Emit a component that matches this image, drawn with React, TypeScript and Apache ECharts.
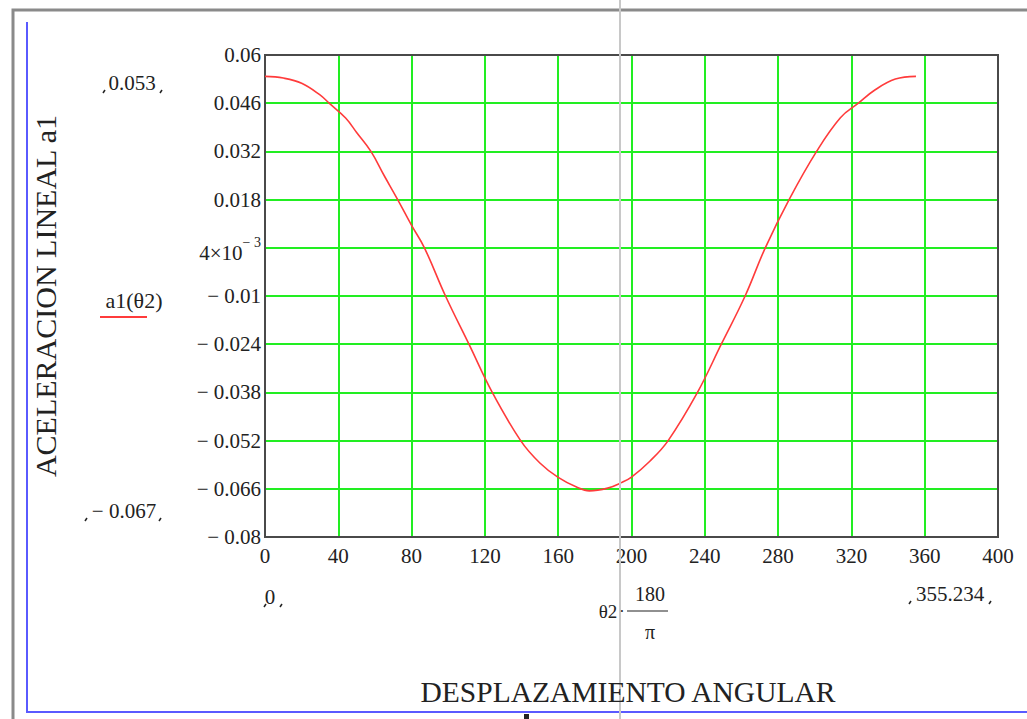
import React, { useEffect, useRef } from "react";
import * as echarts from "echarts";

// Angular displacement (degrees) and linear acceleration a1
const thetaDeg = [0, 10, 20, 30, 35, 44, 50, 57.8, 65, 72.4, 80, 87, 98.5, 111.3, 124, 139.5, 150, 160, 170, 177, 187, 194.5, 200, 210, 220, 236, 249, 262, 273, 286, 301, 314, 323.8, 333, 344, 355.234];
const accel = [0.0538, 0.0533, 0.0518, 0.0484, 0.046, 0.0417, 0.0375, 0.032, 0.025, 0.018, 0.0105, 0.004, -0.01, -0.024, -0.038, -0.052, -0.0585, -0.0627, -0.0655, -0.0666, -0.0658, -0.0642, -0.0626, -0.058, -0.052, -0.038, -0.024, -0.01, 0.004, 0.018, 0.032, 0.0418, 0.046, 0.0499, 0.053, 0.0538];

// y tick labels from -0.08 to 0.06 (step 0.014)
const yTickLabels = ["− 0.08", "− 0.066", "− 0.052", "− 0.038", "− 0.024", "− 0.01", "4×10^− 3", "0.018", "0.032", "0.046", "0.06"];
const yMin = -0.08;
const yMax = 0.06;
const xMin = 0;
const xMax = 400;
const xStep = 40;

const yTitle = "ACELERACION LINEAL a1";
const xTitle = "DESPLAZAMIENTO ANGULAR";
const legendLabel = "a1(θ2)";
const yRangeTop = "0.053";
const yRangeBottom = "− 0.067";
const xRangeLeft = "0";
const xRangeRight = "355.234";

const SERIF = '"Liberation Serif", "DejaVu Serif", serif';

export default function App() {
  const ref = useRef<HTMLDivElement>(null);
  useEffect(() => {
    if (!ref.current) return;
    const chart = echarts.init(ref.current, undefined, { renderer: "svg" });
    const data = thetaDeg.map((t, i) => [t, accel[i]]);
    const txt = (x: number, y: number, s: string, size = 21) => ({
      type: "text",
      x,
      y,
      style: { text: s, font: `${size}px ${SERIF}`, fill: "#222", align: "center", verticalAlign: "middle" },
      z: 10,
    });
    const mark = (x: number, y: number) => ({
      type: "line",
      shape: { x1: x, y1: y, x2: x - 2, y2: y + 3 },
      style: { stroke: "#222", lineWidth: 1.5 },
      z: 10,
    });
    chart.setOption({
      animation: false,
      backgroundColor: "#ffffff",
      grid: {
        left: 265,
        top: 55,
        right: 29,
        bottom: 182,
        show: true,
        borderColor: "#4a4a4a",
        borderWidth: 2,
        backgroundColor: "transparent",
        z: 3,
      },
      xAxis: {
        type: "value",
        min: xMin,
        max: xMax,
        interval: xStep,
        axisLine: { show: false },
        axisTick: { show: false },
        axisLabel: { fontFamily: SERIF, fontSize: 21, color: "#222", margin: 8 },
        splitLine: { show: true, lineStyle: { color: "#22ee22", width: 2 } },
      },
      yAxis: [
        { type: "value", min: yMin, max: yMax, show: false },
        {
          type: "value",
          min: 0,
          max: yTickLabels.length - 1,
          interval: 1,
          position: "left",
          axisLine: { show: false },
          axisTick: { show: false },
          axisLabel: {
            fontFamily: SERIF,
            fontSize: 21,
            color: "#222",
            margin: 4,
            formatter: (v: number) => {
              const s = yTickLabels[Math.round(v)] ?? "";
              if (s.includes("^")) {
                const [base, sup] = s.split("^");
                return `{b|${base}}{s|${sup}}`;
              }
              return s;
            },
            rich: {
              b: { fontFamily: SERIF, fontSize: 21, color: "#222", padding: [10, 0, 0, 0] },
              s: { fontFamily: SERIF, fontSize: 14, color: "#222", padding: [0, 0, 10, 0] },
            },
          },
          splitLine: { show: true, lineStyle: { color: "#22ee22", width: 2 } },
        },
      ],
      series: [
        {
          type: "line",
          yAxisIndex: 0,
          data,
          smooth: 0.4,
          showSymbol: false,
          lineStyle: { color: "#ff3b3b", width: 1.6 },
          z: 4,
        },
      ],
      graphic: [
        { type: "rect", shape: { x: 13, y: 10, width: 1100, height: 800 }, style: { fill: "none", stroke: "#8a8a8a", lineWidth: 3 }, z: 10 },
        { type: "polyline", shape: { points: [[27, 22], [27, 712], [1040, 712]] }, style: { fill: "none", stroke: "#5a5aff", lineWidth: 2 }, z: 10 },
        { type: "line", shape: { x1: 620, y1: 0, x2: 620, y2: 719 }, style: { stroke: "#c8c8c8", lineWidth: 2 }, z: 10 },
        { type: "rect", shape: { x: 524, y: 714, width: 5, height: 5 }, style: { fill: "#222" }, z: 10 },
        {
          type: "text",
          x: 45,
          y: 296,
          rotation: Math.PI / 2,
          style: { text: yTitle, font: `30px ${SERIF}`, fill: "#222", align: "center", verticalAlign: "middle" },
          z: 10,
        },
        {
          type: "text",
          x: 628,
          y: 692,
          style: { text: xTitle, font: `29.5px ${SERIF}`, fill: "#222", align: "center", verticalAlign: "middle" },
          z: 10,
        },
        txt(134, 300, legendLabel, 22),
        { type: "line", shape: { x1: 100, y1: 317, x2: 147, y2: 317 }, style: { stroke: "#ff3b3b", lineWidth: 2 }, z: 10 },
        txt(132, 83, yRangeTop),
        txt(124, 511, yRangeBottom),
        txt(270, 597, xRangeLeft),
        txt(950, 594, xRangeRight),
        mark(105, 90), mark(162, 90),
        mark(87, 518), mark(161, 518),
        mark(266, 604), mark(282, 604),
        mark(911, 601), mark(991, 601),
        txt(608, 611, "θ2", 19),
        txt(622, 611, "·", 16),
        txt(650, 594, "180", 20),
        { type: "line", shape: { x1: 627, y1: 611, x2: 668, y2: 611 }, style: { stroke: "#222", lineWidth: 1.2 }, z: 10 },
        txt(650, 632, "π", 20),
      ],
    });
    return () => chart.dispose();
  }, []);
  return (
    <div
      ref={ref}
      style={{ position: "absolute", left: 0, top: 0, width: 1027, height: 719, background: "#fff" }}
    />
  );
}
